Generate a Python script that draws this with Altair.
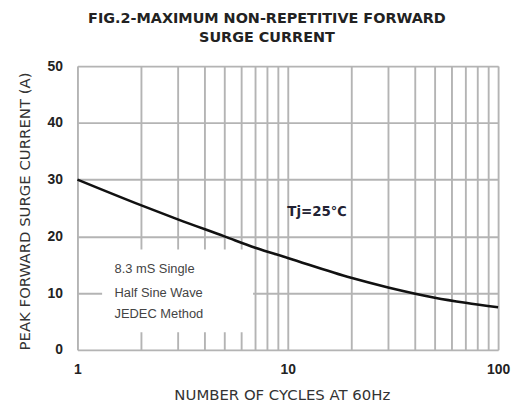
import altair as alt
import pandas as pd

# curve data
cycles = [1, 2, 3, 5, 7, 10, 20, 30, 50, 70, 100]
current = [30, 25.5, 23.0, 20.0, 18.0, 16.2, 12.7, 11.0, 9.2, 8.3, 7.5]

x_grid = [1, 2, 3, 4, 5, 6, 7, 8, 9, 10, 20, 30, 40, 50, 60, 70, 80, 90, 100]
y_ticks = [0, 10, 20, 30, 40, 50]

note_lines = ["8.3 mS Single", "Half Sine Wave", "JEDEC Method"]
note_x = [1.5, 1.5, 1.5]
note_y = [14.2, 10.1, 6.3]

box_x = [1.31]
box_x2 = [6.84]
box_y = [3.1]
box_y2 = [17.7]

tj_label = ["Tj=25\u2103"]
tj_x = [13.8]
tj_y = [24.3]

FONT = "Liberation Sans"
WIDE = "DejaVu Sans"

df = pd.DataFrame({"n": cycles, "i": current})
xs = alt.Scale(type="log", domain=[1, 100], nice=False)
ys = alt.Scale(domain=[0, 50], nice=False)

x_axis = alt.Axis(
    values=x_grid, ticks=False, domain=False, grid=True, gridColor="#b4b4b4", gridWidth=1.9,
    labelExpr="(datum.value==1||datum.value==10||datum.value==100) ? format(datum.value,'d') : ''",
    labelFont=FONT, labelFontSize=14, labelFontWeight="bold", labelColor="#222", labelPadding=13,
    title="NUMBER OF CYCLES AT 60Hz", titleFont=WIDE, titleFontSize=15, titleFontWeight="normal",
    titleColor="#333", titleX=206, titleY=45, titleBaseline="middle", labelFlush=False,
)
y_axis = alt.Axis(
    values=y_ticks, ticks=False, domain=False, grid=True, gridColor="#b4b4b4", gridWidth=1.9,
    labelFont=FONT, labelFontSize=14, labelFontWeight="bold", labelColor="#222", labelPadding=15,
    title="PEAK FORWARD SURGE CURRENT (A)", titleFont=WIDE, titleFontSize=15, titleFontWeight="normal",
    titleColor="#333", titleX=-53, titleY=146, titleBaseline="middle", titleAngle=-90, titleAlign="center",
)

base = alt.Chart(df)

line = base.mark_line(color="#111", strokeWidth=2.6, interpolate="monotone").encode(
    x=alt.X("n:Q", scale=xs, axis=x_axis),
    y=alt.Y("i:Q", scale=ys, axis=y_axis),
)

box_df = pd.DataFrame({"x": box_x, "x2": box_x2, "y": box_y, "y2": box_y2})
box = alt.Chart(box_df).mark_rect(color="white").encode(
    x=alt.X("x:Q", scale=xs), x2="x2:Q", y=alt.Y("y:Q", scale=ys), y2="y2:Q"
)

note_df = pd.DataFrame({"t": note_lines, "x": note_x, "y": note_y})
note = alt.Chart(note_df).mark_text(
    align="left", baseline="middle", font=FONT, fontSize=13, color="#444"
).encode(x=alt.X("x:Q", scale=xs), y=alt.Y("y:Q", scale=ys), text="t:N")

tj_df = pd.DataFrame({"t": tj_label, "x": tj_x, "y": tj_y})
tj = alt.Chart(tj_df).mark_text(
    align="center", baseline="middle", font=WIDE, fontSize=13.5, fontWeight="bold", color="#223"
).encode(x=alt.X("x:Q", scale=xs), y=alt.Y("y:Q", scale=ys), text="t:N")

chart = alt.layer(box, line, note, tj).properties(
    width=424, height=286,
    autosize=alt.AutoSizeParams(type="none"),
    padding={"left": 70, "top": 57, "right": 13, "bottom": 53},
    title=alt.TitleParams(
        ["FIG.2-MAXIMUM NON-REPETITIVE FORWARD", "SURGE CURRENT"],
        font=WIDE, fontSize=14.5, fontWeight="bold", color="#222", anchor="middle",
        dx=-21, offset=14, lineHeight=19,
    ),
).configure_view(stroke="#555", strokeWidth=2.2).configure(background="white")

chart.save("out.html", embed_options={"renderer": "svg", "actions": False})
